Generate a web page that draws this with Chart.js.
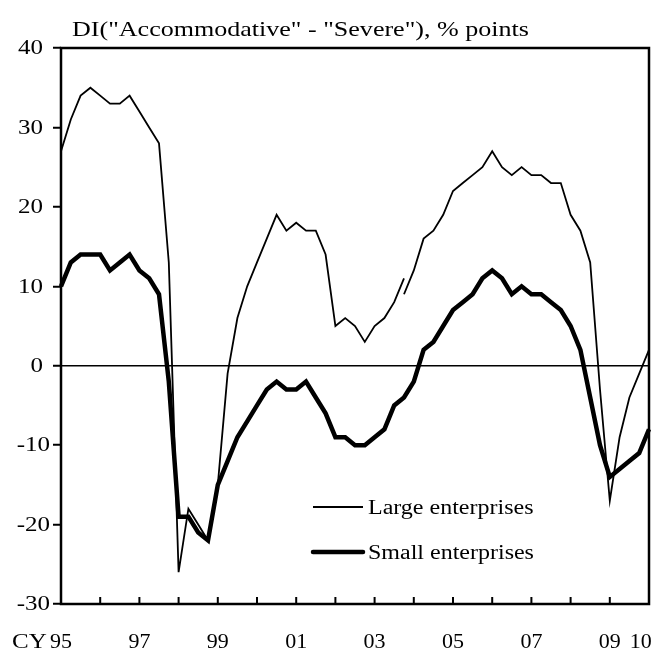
<!DOCTYPE html>
<html>
<head>
<meta charset="utf-8">
<title>Lending attitude DI</title>
<script src="https://cdn.jsdelivr.net/npm/chart.js@4/dist/chart.umd.min.js"></script>
<style>
  html, body { margin: 0; padding: 0; background: #fff; }
  #wrap { width: 664px; height: 651px; }
</style>
</head>
<body>
<div id="wrap"><canvas id="chart" width="664" height="651"></canvas></div>
<script>
// ====== Data (quarterly, CY1995 Q1 - CY2010 Q1) ======
const quarters = [
  '1995Q1','1995Q2','1995Q3','1995Q4', '1996Q1','1996Q2','1996Q3','1996Q4',
  '1997Q1','1997Q2','1997Q3','1997Q4', '1998Q1','1998Q2','1998Q3','1998Q4',
  '1999Q1','1999Q2','1999Q3','1999Q4', '2000Q1','2000Q2','2000Q3','2000Q4',
  '2001Q1','2001Q2','2001Q3','2001Q4', '2002Q1','2002Q2','2002Q3','2002Q4',
  '2003Q1','2003Q2','2003Q3','2003Q4', '2004Q1','2004Q2','2004Q3','2004Q4',
  '2005Q1','2005Q2','2005Q3','2005Q4', '2006Q1','2006Q2','2006Q3','2006Q4',
  '2007Q1','2007Q2','2007Q3','2007Q4', '2008Q1','2008Q2','2008Q3','2008Q4',
  '2009Q1','2009Q2','2009Q3','2009Q4', '2010Q1'
];

// large enterprises, old survey basis (1995Q1 - 2003Q4)
const largeOld = [
  27, 31, 34, 35,   34, 33, 33, 34,   32, 30, 28, 13,  -26, -18, -20, -22,
 -15, -1,  6, 10,   13, 16, 19, 17,   18, 17, 17, 14,    5,   6,   5,   3,
   5,  6,  8, 11
];
// large enterprises, new survey basis (2003Q4 - 2010Q1)
const largeNew = [
   9,
  12, 16, 17, 19,   22, 23, 24, 25,   27, 25, 24, 25,   24, 24, 23, 23,
  19, 17, 13, -3,  -17, -9, -4, -1,
   2
];
const smallEnt = [
  10, 13, 14, 14,   14, 12, 13, 14,   12, 11,  9, -2,  -19, -19, -21, -22,
 -15,-12, -9, -7,   -5, -3, -2, -3,   -3, -2, -4, -6,   -9,  -9, -10, -10,
  -9, -8, -5, -4,   -2,  2,  3,  5,    7,  8,  9, 11,   12,  11,   9,  10,
   9,  9,  8,  7,    5,  2, -4,-10,  -14, -13, -12, -11,
  -8
];

const yTicks = { min: -30, max: 40, step: 10 };
const xTickYears = ['1995', '1997', '1999', '2001', '2003', '2005', '2007', '2009', '2010'];
const titleText = 'DI("Accommodative" - "Severe"), % points';
const legendNames = ['Large enterprises', 'Small enterprises'];

const SERIF = '"Liberation Serif", "Times New Roman", serif';
const THIN = 1.8, THICK = 4.5;

// pad the two large-enterprise pieces out to the full quarter axis
const breakAt = quarters.indexOf('2003Q4');
const largeOldFull = quarters.map((q, i) => (i < largeOld.length ? largeOld[i] : null));
const largeNewFull = quarters.map((q, i) => (i >= breakAt ? largeNew[i - breakAt] : null));

// stretched text, the source artwork is wider than the stock serif
function wideText(ctx, txt, x, y, sx) {
  ctx.save();
  ctx.translate(x, y);
  ctx.scale(sx, 1);
  ctx.fillText(txt, 0, 0);
  ctx.restore();
}

// ====== Plugins ======
const framePlugin = {
  id: 'frame',
  afterDatasetsDraw(chart) {
    const { ctx, chartArea: a, scales: { x } } = chart;
    ctx.save();
    ctx.strokeStyle = '#000';
    ctx.lineWidth = 2.5;
    ctx.strokeRect(a.left, a.top, a.right - a.left, a.bottom - a.top);
    // inward year ticks along the bottom
    ctx.lineWidth = 2;
    ctx.beginPath();
    quarters.forEach((q, i) => {
      if (!q.endsWith('Q1')) return;
      const px = x.getPixelForValue(i);
      ctx.moveTo(px, a.bottom);
      ctx.lineTo(px, a.bottom - 7);
    });
    ctx.stroke();
    ctx.restore();
  }
};

const textPlugin = {
  id: 'texts',
  afterDraw(chart) {
    const { ctx, chartArea: a, scales: { y } } = chart;
    ctx.save();
    ctx.fillStyle = '#000';
    ctx.textBaseline = 'alphabetic';
    ctx.textAlign = 'left';

    ctx.font = `21px ${SERIF}`;
    wideText(ctx, titleText, a.left + 11, 36, 1.24);

    ctx.font = `20px ${SERIF}`;
    wideText(ctx, 'CY', 12, 648, 1.25);

    // y labels, negatives sit a little further right
    ctx.textAlign = 'right';
    ctx.textBaseline = 'middle';
    y.ticks.forEach((t) => {
      const py = y.getPixelForValue(t.value);
      wideText(ctx, String(t.value), t.value < 0 ? a.left - 11 : a.left - 18, py + 1, 1.25);
    });

    // legend inside the plot, lower right
    ctx.textAlign = 'left';
    ctx.textBaseline = 'alphabetic';
    const lx0 = a.left + 252, lx1 = a.left + 302;
    const rows = [{ y: 507, w: THIN }, { y: 552, w: THICK }];
    rows.forEach((r, i) => {
      ctx.beginPath();
      ctx.lineWidth = r.w;
      ctx.lineCap = i ? 'round' : 'butt';
      ctx.moveTo(lx0, r.y);
      ctx.lineTo(lx1, r.y);
      ctx.stroke();
      wideText(ctx, legendNames[i], lx1 + 5, r.y + 7, 1.2);
    });
    ctx.restore();
  }
};

// ====== Chart ======
Chart.defaults.font.family = SERIF;
Chart.defaults.color = '#000';

const lineStyle = (w) => ({
  borderColor: '#000',
  borderWidth: w,
  pointRadius: 0,
  pointHoverRadius: 0,
  tension: 0,
  fill: false,
  spanGaps: false
});

new Chart(document.getElementById('chart'), {
  type: 'line',
  data: {
    labels: quarters,
    datasets: [
      { label: legendNames[0], data: largeOldFull, ...lineStyle(THIN) },
      { label: legendNames[0] + ' (new basis)', data: largeNewFull, ...lineStyle(THIN) },
      { label: legendNames[1], data: smallEnt, ...lineStyle(THICK) }
    ]
  },
  options: {
    responsive: false,
    animation: false,
    devicePixelRatio: 1,
    layout: { padding: { top: 48, right: 15, bottom: 0, left: 0 } },
    plugins: {
      legend: { display: false },
      title: { display: false },
      tooltip: { enabled: false }
    },
    scales: {
      x: {
        type: 'category',
        offset: false,
        grid: { display: false },
        border: { display: false },
        ticks: {
          autoSkip: false,
          maxRotation: 0,
          minRotation: 0,
          padding: 17,
          font: { size: 22 },
          callback(v) {
            const q = quarters[v];
            if (!q.endsWith('Q1') || !xTickYears.includes(q.slice(0, 4))) return null;
            const short = q.slice(2, 4);
            // nudge the last label back inside the frame
            return v === quarters.length - 1 ? short + '   ' : short;
          }
        },
        afterFit(s) {
          s.height = 47;
          s.paddingLeft = 0;
          s.paddingRight = 0;
        }
      },
      y: {
        min: yTicks.min,
        max: yTicks.max,
        border: { display: false },
        grid: {
          color: (c) => (c.tick && c.tick.value === 0 ? '#000' : 'rgba(0,0,0,0)'),
          lineWidth: 1.5,
          drawTicks: true,
          tickLength: 8,
          tickColor: '#000',
          tickWidth: 2
        },
        ticks: { stepSize: yTicks.step, display: false },
        afterFit(s) { s.width = 61; }
      }
    }
  },
  plugins: [framePlugin, textPlugin]
});
</script>
</body>
</html>
